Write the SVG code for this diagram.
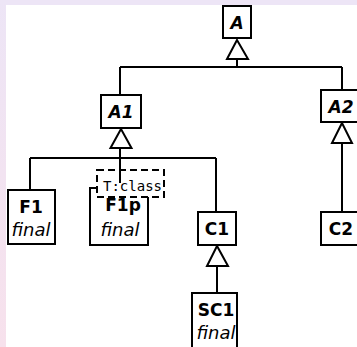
<svg xmlns="http://www.w3.org/2000/svg" width="357" height="347" viewBox="0 0 357 347">
  <defs>
    <linearGradient id="edge" x1="0" y1="0" x2="0" y2="1">
      <stop offset="0" stop-color="#ede5f6"/>
      <stop offset="1" stop-color="#f7e1ec"/>
    </linearGradient>
    <style>
      .box { fill: #fff; stroke: #000; stroke-width: 2; }
      .dash { fill: #fff; stroke: #000; stroke-width: 2; stroke-dasharray: 7 4; }
      .lbl { font-family: "DejaVu Sans", sans-serif; font-weight: bold; font-size: 17px; text-anchor: middle; fill: #000; }
      .abs { font-style: italic; }
      .fin { font-family: "DejaVu Sans", sans-serif; font-style: italic; font-size: 18px; text-anchor: middle; fill: #000; }
      .mono { font-family: "DejaVu Sans Mono", monospace; font-size: 14px; fill: #000; }
      .ln { fill: none; stroke: #000; stroke-width: 2; }
      .tri { fill: #fff; stroke: #000; stroke-width: 2; stroke-linejoin: miter; }
    </style>
  </defs>

  <!-- page background -->
  <rect x="0" y="0" width="357" height="347" fill="#fff"/>
  <rect x="0" y="0" width="357" height="5" fill="#ede5f6"/>
  <rect x="0" y="0" width="6" height="347" fill="url(#edge)"/>

  <!-- inheritance lines -->
  <g id="connectors">
    <path class="ln" d="M237 59V67M120 67H342M120 67V95M342 67V96"/>
    <polygon class="tri" points="237,40 227,59 248,59"/>
    <path class="ln" d="M120 148V158M30 158H216M30 158V190M216 158V212"/>
    <polygon class="tri" points="121,129 110.5,148 131.5,148"/>
    <path class="ln" d="M342 143V212"/>
    <polygon class="tri" points="342,123 332,143 352,143"/>
    <path class="ln" d="M217 266V293"/>
    <polygon class="tri" points="217,246 207,266 228,266"/>
  </g>

  <g id="A">
    <rect class="box" x="223" y="6" width="28" height="32"/>
    <text class="lbl abs" x="237" y="29">A</text>
  </g>

  <g id="A1">
    <rect class="box" x="101" y="95" width="40" height="33"/>
    <text class="lbl abs" x="121" y="118">A1</text>
  </g>

  <g id="A2">
    <rect class="box" x="321" y="90" width="44" height="32"/>
    <text class="lbl abs" x="341" y="113">A2</text>
  </g>

  <g id="F1">
    <rect class="box" x="8" y="190" width="47" height="54"/>
    <text class="lbl" x="31" y="213">F1</text>
    <text class="fin" x="31" y="236">final</text>
  </g>

  <g id="F1p">
    <rect class="box" x="90" y="188" width="58" height="57"/>
    <rect class="dash" x="97" y="170" width="67" height="27"/>
    <path class="ln" d="M120 158V183"/>
    <text class="mono" x="103" y="191">T:class</text>
    <text class="lbl" x="123" y="211">F1p</text>
    <text class="fin" x="120" y="236">final</text>
  </g>

  <g id="C1">
    <rect class="box" x="198" y="212" width="38" height="33"/>
    <text class="lbl" x="217" y="235">C1</text>
  </g>

  <g id="C2">
    <rect class="box" x="321" y="212" width="44" height="33"/>
    <text class="lbl" x="341" y="235">C2</text>
  </g>

  <g id="SC1">
    <rect class="box" x="192" y="293" width="45" height="62"/>
    <text class="lbl" x="216" y="316">SC1</text>
    <text class="fin" x="216" y="339">final</text>
  </g>
</svg>
